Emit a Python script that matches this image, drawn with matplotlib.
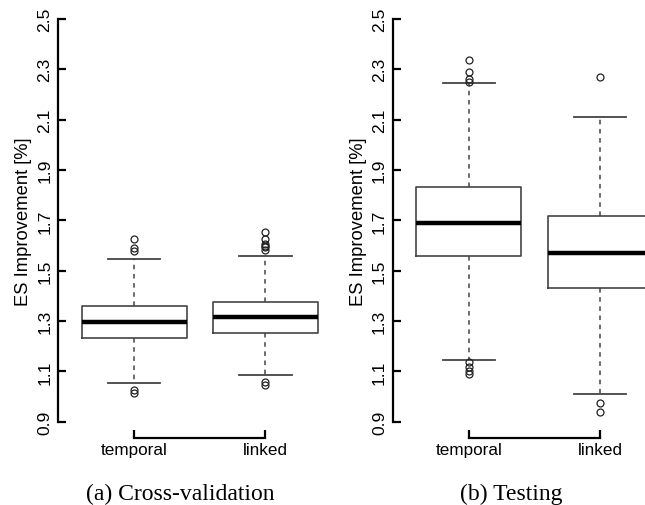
import matplotlib
matplotlib.use("Agg")
import matplotlib.pyplot as plt

categories = ["temporal", "linked"]
panel_titles = ["(a) Cross-validation", "(b) Testing"]
y_ticks = [0.9, 1.1, 1.3, 1.5, 1.7, 1.9, 2.1, 2.3, 2.5]
y_label = "ES Improvement [%]"

# Cross-validation statistics: [temporal, linked]
cv_q1 = [1.232, 1.251]
cv_med = [1.297, 1.316]
cv_q3 = [1.361, 1.374]
cv_whislo = [1.052, 1.087]
cv_whishi = [1.546, 1.557]
cv_fliers = [[1.626, 1.589, 1.579, 1.027, 1.014],
             [1.652, 1.626, 1.606, 1.599, 1.593, 1.583, 1.059, 1.046]]

# Testing statistics: [temporal, linked]
te_q1 = [1.557, 1.431]
te_med = [1.689, 1.570]
te_q3 = [1.831, 1.718]
te_whislo = [1.146, 1.010]
te_whishi = [2.245, 2.112]
te_fliers = [[2.336, 2.291, 2.262, 2.251, 1.136, 1.116, 1.100, 1.090],
             [2.268, 0.974, 0.937]]

plt.rcParams['font.family'] = ['Liberation Sans', 'DejaVu Sans']

fig = plt.figure(figsize=(6.45, 5.06), dpi=100)

box_col = '#444444'


def make_stats(q1, med, q3, lo, hi, fl):
    return [dict(q1=q1[i], med=med[i], q3=q3[i], whislo=lo[i], whishi=hi[i],
                 fliers=fl[i], label=categories[i]) for i in range(len(categories))]


panels = [
    (0.0899, make_stats(cv_q1, cv_med, cv_q3, cv_whislo, cv_whishi, cv_fliers)),
    (0.6088, make_stats(te_q1, te_med, te_q3, te_whislo, te_whishi, te_fliers)),
]

for left, stats in panels:
    ax = fig.add_axes([left, 0.1328, 0.4397, 0.8595])
    ax.bxp(stats, positions=[1, 2], widths=0.8, showfliers=True,
           boxprops=dict(color=box_col, linewidth=1.2),
           medianprops=dict(color='black', linewidth=3.2, solid_capstyle='butt'),
           whiskerprops=dict(color=box_col, linewidth=1.1, linestyle=(0, (3, 3))),
           capprops=dict(color=box_col, linewidth=1.3),
           capwidths=0.4,
           flierprops=dict(marker='o', markerfacecolor='none', markeredgecolor='#222222',
                           markersize=5, markeredgewidth=0.9, linestyle='none'))
    ax.set_xlim(0.42, 2.58)
    ax.set_ylim(0.836, 2.564)
    for s in ['top', 'right']:
        ax.spines[s].set_visible(False)
    ax.spines['left'].set_bounds(0.9, 2.5)
    ax.spines['bottom'].set_bounds(1, 2)
    for s in ['left', 'bottom']:
        ax.spines[s].set_linewidth(1.6)
    ax.set_yticks(y_ticks)
    ax.set_yticklabels([f"{v:.1f}" for v in y_ticks], rotation=90, va='center')
    ax.set_xticks([1, 2])
    ax.set_xticklabels(categories)
    ax.tick_params(axis='both', direction='in', length=5.5, width=1.6)
    ax.tick_params(axis='y', pad=4, labelsize=12.6)
    ax.tick_params(axis='x', pad=3, labelsize=12.3)
    ax.set_ylabel(y_label, fontsize=13.2, labelpad=4)
    ax.patch.set_visible(False)

fig.text(180.5 / 645, 1 - 494 / 506, panel_titles[0], family='Liberation Serif',
         fontsize=17, ha='center', va='center')
fig.text(511.7 / 645, 1 - 494 / 506, panel_titles[1], family='Liberation Serif',
         fontsize=17, ha='center', va='center')

fig.savefig("out.png", dpi=100)
